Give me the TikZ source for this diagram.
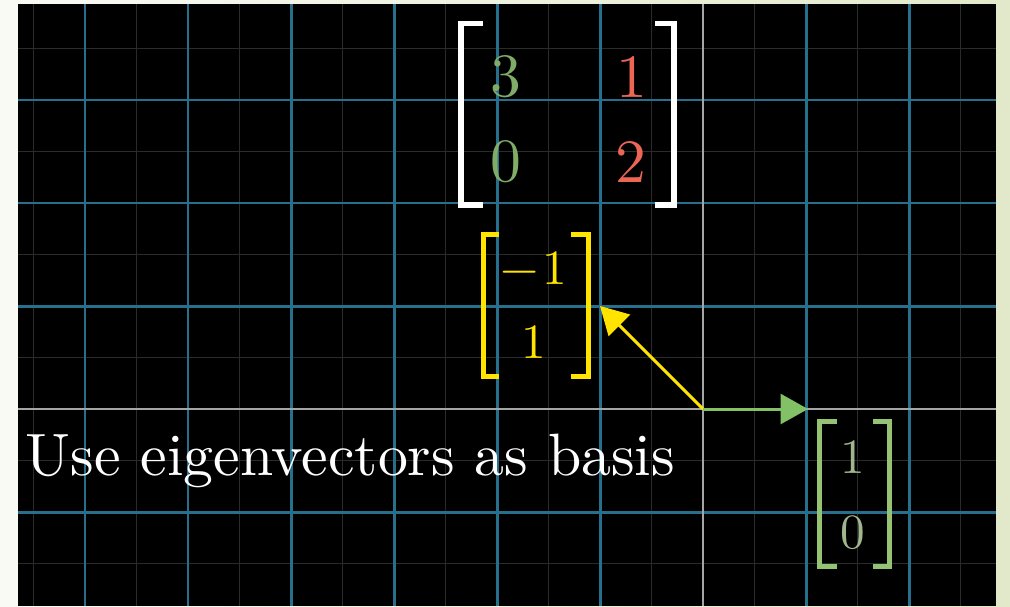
\documentclass[tikz,border=0pt]{standalone}
\usetikzlibrary{arrows.meta}
\font\capfont="[lmroman10-regular.otf]" at 17pt
\font\matfont="[lmroman10-regular.otf]" at 17.5pt
\font\vecfont="[lmroman10-regular.otf]" at 14pt
\definecolor{bgL}{RGB}{250,250,245}
\definecolor{bgR}{RGB}{226,233,202}
\definecolor{gmajor}{RGB}{38,112,142}
\definecolor{gminor}{RGB}{40,44,44}
\definecolor{axisc}{RGB}{165,165,165}
\definecolor{mgreen}{RGB}{128,172,104}
\definecolor{mred}{RGB}{236,102,86}
\definecolor{vyellow}{RGB}{255,228,0}
\definecolor{vgreen}{RGB}{131,193,103}
\definecolor{bgreen}{RGB}{150,195,115}
\definecolor{tgreen}{RGB}{160,182,140}
\tikzset{
  minorline/.style={gminor, line width=0.45pt},
  majorline/.style={gmajor, line width=0.85pt},
  axisline/.style={axisc, line width=0.8pt},
  brk/.style={line cap=butt, line join=miter},
  wbr/.style={brk, white, line width=1.7pt},
  ybr/.style={brk, vyellow, line width=1.45pt},
  gbr/.style={brk, bgreen, line width=1.45pt},
  mnum/.style={inner sep=0pt, font=\matfont},
  vnum/.style={inner sep=0pt, font=\vecfont},
  lbl/.style={inner sep=0pt, text=white, font=\capfont},
  yarrow/.style={vyellow, line width=0.85pt, -{Triangle[length=7.8pt,width=8.5pt]}},
  garrow/.style={vgreen, line width=0.85pt, -{Triangle[length=7.8pt,width=8.5pt]}}
}
\begin{document}
\begin{tikzpicture}[x=0.01cm,y=-0.01cm]
\useasboundingbox (0,0) rectangle (1010,606);
\shade[left color=bgL, right color=bgR] (0,0) rectangle (1010,606);
\fill[black] (18,4) rectangle (996,606);
\begin{scope}
  \clip (18,4) rectangle (996,606);
  \foreach \k in {-13,-11,...,5} \draw[minorline] ({703+\k*51.5},4) -- ({703+\k*51.5},606);
  \foreach \k in {-7,-5,...,3} \draw[minorline] (18,{409+\k*51.5}) -- (996,{409+\k*51.5});
  \foreach \k in {-6,...,-1,1,2} \draw[majorline] ({703+\k*103},4) -- ({703+\k*103},606);
  \foreach \k in {-3,...,-1,1} \draw[majorline] (18,{409+\k*103}) -- (996,{409+\k*103});
  \draw[axisline] (703,4) -- (703,606);
  \draw[axisline] (18,409) -- (996,409);
\end{scope}
% vectors
\coordinate (O) at (703,409);
\coordinate (ev) at (600,306);
\coordinate (e1) at (808,409);
\draw[yarrow] (O) -- (ev);
\draw[garrow] (O) -- (e1);
% matrix
\node[mnum, text=mgreen] (m11) at (506,77) {3};
\node[mnum, text=mred] (m12) at (632,77) {1};
\node[mnum, text=mgreen] (m21) at (506,162) {0};
\node[mnum, text=mred] (m22) at (631,162) {2};
\draw[wbr] (483,23.5) -- (461,23.5) -- (461,205) -- (483,205);
\draw[wbr] (655,23.5) -- (674,23.5) -- (674,205) -- (655,205);
% eigenvector (-1,1)
\node[vnum, text=vyellow] (y1) at (534,268) {\char"2212\kern1pt 1};
\node[vnum, text=vyellow] (y2) at (534,342) {1};
\draw[ybr] (499,234.5) -- (483.5,234.5) -- (483.5,376.5) -- (499,376.5);
\draw[ybr] (571,234.5) -- (588.5,234.5) -- (588.5,376.5) -- (571,376.5);
% vector (1,0)
\node[vnum, text=tgreen] (g1) at (853,457) {1};
\node[vnum, text=tgreen] (g2) at (853,533) {0};
\draw[gbr] (837,421.5) -- (819.5,421.5) -- (819.5,566.5) -- (837,566.5);
\draw[gbr] (873,421.5) -- (889.5,421.5) -- (889.5,566.5) -- (873,566.5);
% caption
\node[lbl, anchor=base west] (cap) at (25,475) {Use eigenvectors as basis};
\end{tikzpicture}
\end{document}
